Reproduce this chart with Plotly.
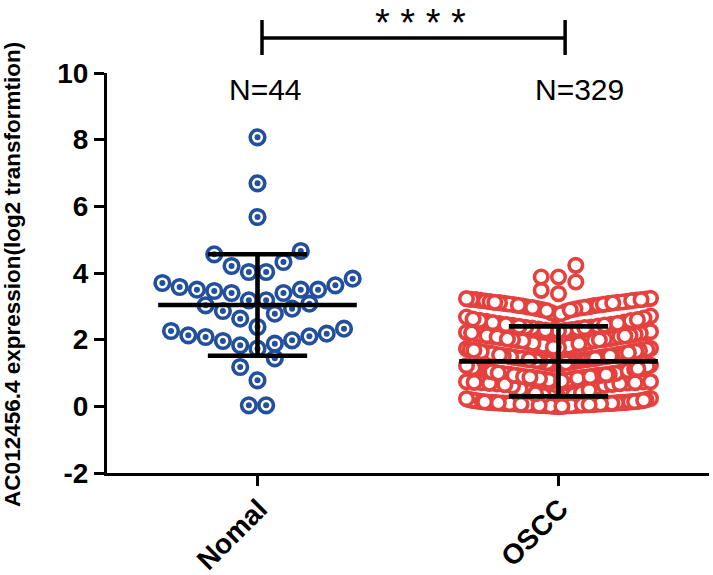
import plotly.graph_objects as go

# ---------------- data ----------------
categories = ["Nomal", "OSCC"]
n_labels = ["N=44", "N=329"]
significance = "* * * *"
y_tick_values = [-2, 0, 2, 4, 6, 8, 10]
y_tick_labels = ["-2", "0", "2", "4", "6", "8", "10"]
y_title = "AC012456.4 expression(log2 transformtion)"

nomal_values = [
    8.07, 6.69, 5.68, 4.66, 4.56, 4.33, 4.03, 4.03, 4.21, 3.70, 3.58,
    3.50, 3.46, 3.40, 3.18, 3.18, 3.40, 3.50, 3.50, 3.63, 3.83, 3.03,
    2.86, 2.63, 2.38, 2.78, 2.93, 3.08, 2.33, 2.18, 2.10, 1.98, 1.88,
    1.73, 1.83, 1.96, 2.08, 2.13, 2.26, 1.44, 1.18, 0.78, 0.03, 0.03,
]

oscc_values = [
    0.05, 0.12, 0.02, 0.31, 0.08, 0.00, 0.17, 0.04, 0.10, 0.22,
    0.06, 0.01, 0.14, 0.09, 0.45, 0.03, 0.19, 0.07, 0.11, 0.00,
    0.26, 0.05, 0.13, 0.02, 0.08, 0.16, 0.04, 0.58, 0.10, 0.06,
    0.21, 0.03, 0.12, 0.09, 0.01, 0.15, 0.07, 0.35, 0.05, 0.11,
    0.02, 0.18, 0.08, 0.04, 0.13, 0.28, 0.06, 0.00, 0.10, 0.14,
    0.03, 0.63, 0.09, 0.07, 0.24, 0.05, 0.12, 0.02, 0.16, 0.11,
    0.04, 0.08, 0.40, 0.06, 0.13, 0.01, 0.20, 0.09, 0.03, 0.15,
    0.07, 0.52, 0.10, 0.05, 0.17, 0.02, 0.12, 0.33, 0.08, 0.04,
    0.14, 0.06, 0.11, 0.00, 0.23, 0.09, 0.03, 0.61, 0.07, 0.13,
    0.05, 0.18, 0.10, 0.38, 0.48,
    0.92, 0.71, 1.05, 0.83, 1.18, 0.67, 0.96, 1.24, 0.78, 0.88,
    1.01, 0.74, 1.12, 0.85, 0.69, 0.99, 1.27, 0.81, 0.93, 1.08,
    0.76, 0.90, 1.15, 0.66, 0.87, 1.03, 0.79, 1.21, 0.95, 0.72,
    0.84, 1.10, 0.98, 0.70, 1.29, 0.89, 0.77, 1.06, 0.91, 0.82,
    1.14, 0.68, 0.94, 1.02, 0.75, 1.19, 0.86, 0.97, 0.73, 1.09,
    0.80, 1.26, 0.92, 0.88, 1.04, 0.71, 1.16, 0.84, 0.99, 0.78,
    1.07, 0.65, 0.93, 1.22, 0.83, 0.96, 1.11, 0.74, 0.89, 1.00,
    0.76, 1.13, 0.87, 1.28, 0.95,
    1.45, 1.33, 1.62, 1.51, 1.78, 1.38, 1.90, 1.56, 1.42, 1.69,
    1.31, 1.84, 1.48, 1.60, 1.36, 1.74, 1.53, 1.93, 1.40, 1.66,
    1.58, 1.34, 1.81, 1.47, 1.71, 1.39, 1.55, 1.88, 1.44, 1.63,
    1.32, 1.76, 1.50, 1.67, 1.41, 1.86, 1.57, 1.35, 1.73, 1.49,
    1.64, 1.37, 1.80, 1.52, 1.43, 1.92, 1.59, 1.70, 1.46, 1.30,
    1.83, 1.54, 1.65, 1.40, 1.77, 1.61, 1.89, 1.44, 1.68, 1.51,
    2.21, 1.98, 2.43, 2.10, 2.55, 2.03, 2.32, 2.17, 2.48, 1.96,
    2.27, 2.38, 2.06, 2.51, 2.14, 2.00, 2.35, 2.24, 2.58, 2.09,
    2.41, 1.97, 2.19, 2.30, 2.46, 2.05, 2.28, 2.12, 2.53, 2.01,
    2.37, 2.22, 2.44, 2.08, 2.33, 2.16, 2.57, 2.26, 2.02, 2.40,
    2.13, 2.49, 2.20, 2.36, 1.99, 2.29, 2.45, 2.11,
    2.95, 3.12, 2.68, 3.05, 3.20, 2.84, 3.15, 2.99, 2.62, 3.09,
    3.22, 2.90, 3.02, 2.75, 3.18, 3.07, 2.93, 3.24, 2.71, 3.11,
    2.98, 3.16, 2.81, 3.04, 3.21, 2.65, 3.13, 2.97, 3.08, 2.87,
    3.19, 3.01, 2.78, 3.14, 3.23, 2.92, 3.06, 3.17, 2.60, 3.10,
    2.96, 3.20, 3.03, 2.89, 3.12,
    3.38, 3.48, 3.73, 3.88, 3.88, 4.23,
]

# ---------------- styling / geometry ----------------
W, H = 713, 575
ML, MR, MT, MB = 107, 4, 73, 102
X_RANGE = [-0.5, 1.5]
Y_RANGE = [-2, 10]
PX_PER_X = (W - ML - MR) / (X_RANGE[1] - X_RANGE[0])
PLOT_H = H - MT - MB

BLUE = "#22509C"
RED = "#E5413F"
FONT = "Liberation Sans, Arial, sans-serif"


def swarm_x(values, center, bin_h, bin_off, step_px, max_half_px):
    """GraphPad-like scatter dot plot layout: values binned by height,
    sorted inside a bin and spread alternately left/right of the centre."""
    bins = {}
    for i, v in enumerate(values):
        bins.setdefault(int((v + bin_off) // bin_h), []).append(i)
    xs = [center] * len(values)
    for idxs in bins.values():
        order = sorted(idxs, key=lambda i: values[i])
        n = len(order)
        step = step_px
        if n > 1:
            step = min(step_px, 2 * max_half_px / (n - 1))
        for k, i in enumerate(order):
            if n % 2 == 1:
                m = (k + 1) // 2
                slot = 0 if k == 0 else (-m if k % 2 == 1 else m)
            else:
                m = k // 2
                slot = -(m + 0.5) if k % 2 == 0 else (m + 0.5)
            xs[i] = center + slot * step / PX_PER_X
    return xs


def mean_sd(vals):
    n = len(vals)
    m = sum(vals) / n
    sd = (sum((v - m) ** 2 for v in vals) / (n - 1)) ** 0.5
    return m, sd


x_nomal = swarm_x(nomal_values, 0, 0.78, 0.0, 17.3, 1000)
x_oscc = swarm_x(oscc_values, 1, 0.5, 0.25, 17.3, 92)

fig = go.Figure()

fig.add_trace(go.Scatter(
    x=x_oscc, y=oscc_values, mode="markers", hoverinfo="skip",
    marker=dict(symbol="circle", size=13.5, color="white",
                line=dict(color=RED, width=3.6)),
))
fig.add_trace(go.Scatter(
    x=x_nomal, y=nomal_values, mode="markers", hoverinfo="skip",
    marker=dict(symbol="circle", size=14.6, color="white",
                line=dict(color=BLUE, width=3.6)),
))
fig.add_trace(go.Scatter(
    x=x_nomal, y=nomal_values, mode="markers", hoverinfo="skip",
    marker=dict(symbol="circle", size=6, color=BLUE, line=dict(width=0)),
))

MEAN_HALF = 0.33
CAP_HALF = 0.165
for ci, vals in enumerate([nomal_values, oscc_values]):
    m, sd = mean_sd(vals)
    xs = [ci - MEAN_HALF, ci + MEAN_HALF, None,
          ci - CAP_HALF, ci + CAP_HALF, None,
          ci - CAP_HALF, ci + CAP_HALF, None,
          ci, ci]
    ys = [m, m, None, m + sd, m + sd, None, m - sd, m - sd, None, m - sd, m + sd]
    fig.add_trace(go.Scatter(x=xs, y=ys, mode="lines", hoverinfo="skip",
                             line=dict(color="black", width=4.6)))

# N labels
for ci, (lab, dx) in enumerate(zip(n_labels, [0.028, 0.07])):
    fig.add_annotation(x=ci + dx, y=9.5, xref="x", yref="y", text=lab,
                       showarrow=False, font=dict(family=FONT, size=30, color="black"),
                       xanchor="center", yanchor="middle")

# category labels (rotated, below the axis)
for ci, lab in enumerate(categories):
    fig.add_annotation(x=ci + 0.062, y=-17 / PLOT_H, xref="x", yref="paper",
                       text="<b>" + lab + "</b>", textangle=-45, showarrow=False,
                       font=dict(family=FONT, size=28, color="black"),
                       xanchor="right", yanchor="top")

# significance bracket
BR_Y = 1.0875
fig.add_shape(type="line", xref="x", yref="paper", x0=0.015, x1=1.022,
              y0=BR_Y, y1=BR_Y, line=dict(color="black", width=3.5))
for xb in [0.015, 1.022]:
    fig.add_shape(type="line", xref="x", yref="paper", x0=xb, x1=xb,
                  y0=1.045, y1=1.1325, line=dict(color="black", width=3.5))
fig.add_annotation(x=0.543, y=(PLOT_H + MT - 1) / PLOT_H, xref="x", yref="paper",
                   text=significance, showarrow=False, borderpad=0,
                   font=dict(family=FONT, size=38, color="black"),
                   xanchor="center", yanchor="top")

# y title
fig.add_annotation(x=-0.158, y=0.4975, xref="paper", yref="paper",
                   text="<b>" + y_title + "</b>", textangle=-90, showarrow=False,
                   font=dict(family=FONT, size=22.5, color="black"),
                   xanchor="center", yanchor="middle")

axis_common = dict(showline=True, linecolor="black", linewidth=3,
                   ticks="outside", ticklen=10, tickwidth=3, tickcolor="black",
                   showgrid=False, zeroline=False, fixedrange=True,
                   automargin=False)

fig.update_xaxes(range=X_RANGE, tickvals=[0, 1], ticktext=categories,
                 showticklabels=False, **axis_common)
fig.update_yaxes(range=Y_RANGE, tickvals=y_tick_values, ticktext=y_tick_labels,
                 tickfont=dict(family=FONT, size=28, color="black", weight="bold"),
                 **axis_common)

fig.update_layout(width=W, height=H, margin=dict(l=ML, r=MR, t=MT, b=MB, autoexpand=False),
                  plot_bgcolor="white", paper_bgcolor="white", showlegend=False)

fig.write_html("out.html", config={"displayModeBar": False},
               post_script="document.body.style.margin='0px';"
                           "document.body.style.overflow='hidden';")
